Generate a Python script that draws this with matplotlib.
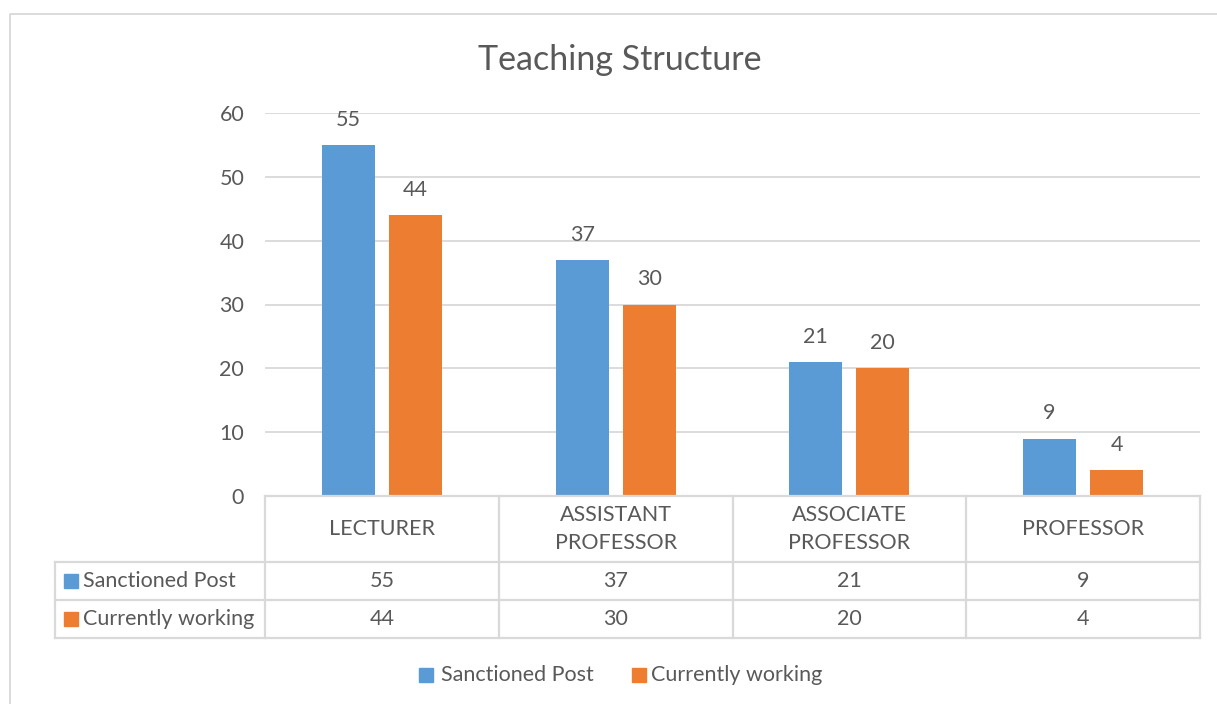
import matplotlib.pyplot as plt
from matplotlib.patches import Rectangle

categories = ["LECTURER", "ASSISTANT\nPROFESSOR", "ASSOCIATE\nPROFESSOR", "PROFESSOR"]
series_names = ["Sanctioned Post", "Currently working"]
sanctioned = [55, 37, 21, 9]
working = [44, 30, 20, 4]
yticks = [0, 10, 20, 30, 40, 50, 60]

blue = "#5b9bd5"
orange = "#ed7d31"
txt = "#595959"
grid = "#d9d9d9"
fs = 15.5
plt.rcParams['font.family'] = ['Lato', 'DejaVu Sans']

W, H = 1217, 704
fig = plt.figure(figsize=[W / 100, H / 100], dpi=100)

# pixel layout of the plot area
x0, x1, ytop, ybot = 265, 1200, 113, 496
ax = fig.add_axes([x0 / W, 1 - ybot / H, (x1 - x0) / W, (ybot - ytop) / H])
n = len(categories)
ax.set_xlim(0, n)
ax.set_ylim(0, 60)
bw = 53 / ((x1 - x0) / n)
gap = 14 / ((x1 - x0) / n)
xs = [i + 0.5 for i in range(n)]
b1 = ax.bar([x - (bw + gap) / 2 for x in xs], sanctioned, width=bw, color=blue, zorder=3)
b2 = ax.bar([x + (bw + gap) / 2 for x in xs], working, width=bw, color=orange, zorder=3)
for bars, vals in [(b1, sanctioned), (b2, working)]:
    for b, v in zip(bars, vals):
        ax.annotate(str(v), (b.get_x() + b.get_width() / 2, v), xytext=(0, 11),
                    textcoords="offset points", ha="center", va="bottom",
                    fontsize=fs, color=txt)
ax.set_yticks(yticks)
ax.set_yticklabels([str(t) for t in yticks], fontsize=fs, color=txt)
ax.tick_params(axis="y", length=0, pad=15)
ax.set_xticks([])
ax.yaxis.grid(True, color=grid, lw=1.3, zorder=0)
for s in ["top", "right", "left", "bottom"]:
    ax.spines[s].set_visible(False)

# overlay in pixel coordinates for table, title and legend
ov = fig.add_axes([0, 0, 1, 1])
ov.set_xlim(0, W)
ov.set_ylim(H, 0)
ov.axis("off")
ov.patch.set_alpha(0)

# chart border
ov.plot([10, 10, W], [H, 14, 14], color=grid, lw=1.3)

ov.text(620, 60, "Teaching Structure", ha="center", va="center", fontsize=24.5, color=txt)

cols = [x0 + (x1 - x0) * i / n for i in range(n + 1)]
r0, r1, r2, r3 = 496, 562, 600, 638
lx = 55
lw = 1.6
ov.plot([x0, x1], [r0, r0], color=grid, lw=lw)
for r in [r1, r2, r3]:
    ov.plot([lx, x1], [r, r], color=grid, lw=lw)
for c in cols:
    ov.plot([c, c], [r0, r3], color=grid, lw=lw)
ov.plot([lx, lx], [r1, r3], color=grid, lw=lw)

for i, cat in enumerate(categories):
    cx = (cols[i] + cols[i + 1]) / 2
    ov.text(cx, (r0 + r1) / 2, cat, ha="center", va="center", fontsize=fs, color=txt,
            linespacing=1.55)
    ov.text(cx, (r1 + r2) / 2, str(sanctioned[i]), ha="center", va="center", fontsize=fs, color=txt)
    ov.text(cx, (r2 + r3) / 2, str(working[i]), ha="center", va="center", fontsize=fs, color=txt)

for (name, col, ry) in [(series_names[0], blue, (r1 + r2) / 2), (series_names[1], orange, (r2 + r3) / 2)]:
    ov.add_patch(Rectangle((64, ry - 7), 14, 14, color=col))
    ov.text(83, ry, name, ha="left", va="center", fontsize=fs, color=txt)

# legend
ly = 675
ov.add_patch(Rectangle((419, ly - 7), 14, 14, color=blue))
ov.text(441, ly, series_names[0], ha="left", va="center", fontsize=fs, color=txt)
ov.add_patch(Rectangle((632, ly - 7), 14, 14, color=orange))
ov.text(651, ly, series_names[1], ha="left", va="center", fontsize=fs, color=txt)

plt.savefig("out.png", dpi=100)
